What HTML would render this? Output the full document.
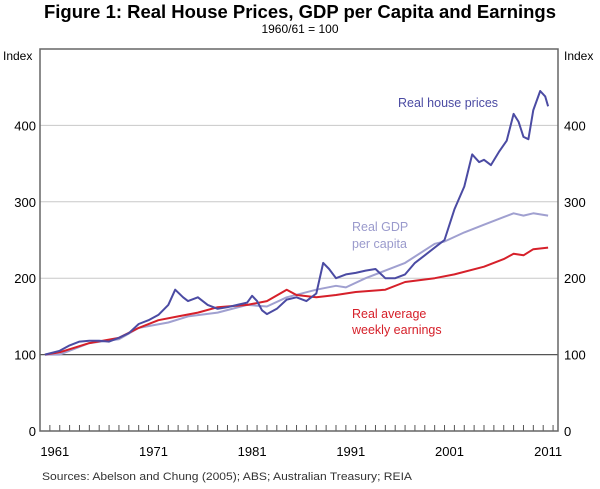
<!DOCTYPE html>
<html><head><meta charset="utf-8"><style>
body{margin:0;background:#fff;width:600px;height:484px;overflow:hidden;font-family:"Liberation Sans",Arial,sans-serif}
</style></head><body>
<svg id="chart" width="600" height="484" xmlns="http://www.w3.org/2000/svg" font-family="Liberation Sans, Arial, sans-serif">
<text x="300" y="18" text-anchor="middle" font-size="18" font-weight="bold" textLength="512" lengthAdjust="spacingAndGlyphs">Figure 1: Real House Prices, GDP per Capita and Earnings</text>
<text x="300" y="33" text-anchor="middle" font-size="12">1960/61 = 100</text>
<text x="3" y="60" font-size="12">Index</text>
<text x="564" y="60" font-size="12">Index</text>
<g id="grid"></g><g id="series"></g><g id="axes"></g>
<text x="398" y="107" font-size="12.5" fill="#4b4ba3">Real house prices</text>
<text x="352" y="231" font-size="12.5" fill="#9a9acc">Real GDP</text>
<text x="352" y="248" font-size="12.5" fill="#9a9acc">per capita</text>
<text x="352" y="318" font-size="12.5" fill="#d6202a">Real average</text>
<text x="352" y="334" font-size="12.5" fill="#d6202a">weekly earnings</text>
<text x="42" y="480" font-size="11" fill="#333" textLength="370" lengthAdjust="spacingAndGlyphs">Sources:  Abelson and Chung (2005); ABS; Australian Treasury; REIA</text>
</svg>
<script>
const yTicks=[0,100,200,300,400];
const xLabels=[1961,1971,1981,1991,2001,2011];
const houseT=[1960.5,1962,1963,1964,1965,1966,1967,1968,1969,1970,1971,1972,1973,1973.7,1974.5,1975,1976,1977,1978,1979,1980,1981,1981.5,1982,1982.5,1983,1984,1985,1986,1987,1988,1988.7,1989.3,1990,1991,1992,1993,1994,1995,1996,1997,1998,1999,2000,2001,2002,2003,2003.8,2004.5,2005,2005.7,2006.5,2007.3,2008,2008.5,2009,2009.5,2010,2010.7,2011.2,2011.5];
const houseV=[100,105,112,117,118,118,117,122,128,140,145,152,165,185,175,170,175,165,160,162,165,168,177,170,158,153,160,172,175,170,180,220,212,200,205,207,210,212,200,200,205,220,230,240,250,290,320,362,352,355,348,365,380,415,405,385,382,420,445,438,425];
const gdpT=[1960.5,1962,1965,1968,1970,1973,1975,1978,1981,1983,1985,1988,1990,1991,1993,1995,1997,2000,2001,2003,2005,2007,2008,2009,2010,2011.5];
const gdpV=[100,100,115,120,135,142,150,155,165,163,175,185,190,188,200,210,220,245,248,260,270,280,285,282,285,282];
const earnT=[1960.5,1962,1965,1968,1970,1972,1974,1976,1978,1981,1983,1985,1986,1988,1990,1992,1995,1997,2000,2002,2005,2007,2008,2009,2010,2011.5];
const earnV=[100,103,115,122,135,145,150,155,162,165,170,185,178,175,178,182,185,195,200,205,215,225,232,230,238,240];
const L=40,R=558,T=49,B=431;
const x=t=>L+(t-1960)*(R-L)/52.5;
const y=v=>B-v*(B-T)/500;
const NS='http://www.w3.org/2000/svg';
function mk(tag,attrs,parent,text){const e=document.createElementNS(NS,tag);for(const k in attrs)e.setAttribute(k,attrs[k]);if(text!==undefined)e.textContent=text;document.getElementById(parent).appendChild(e);return e;}
yTicks.forEach(v=>{
 if(v>0){const g=mk('line',{x1:L,x2:R,y1:y(v),y2:y(v),stroke:v==100?'#555':'#c8c8c8','stroke-width':v==100?1.3:1},'grid');
 
 }
 const a=mk('text',{x:L-4,y:y(v)+5,'text-anchor':'end','font-size':13},'axes',v);
 
 
 const b=mk('text',{x:R+6,y:y(v)+5,'font-size':13},'axes',v);
 
 
});
for(let yr=1961;yr<=2012;yr++){const t=mk('line',{x1:x(yr),x2:x(yr),y1:B,y2:B-6,stroke:'#555','stroke-width':1},'axes');
 
 }
xLabels.forEach(yr=>{const t=mk('text',{x:x(yr+0.5),y:B+25,'text-anchor':'middle','font-size':13},'axes',yr);
 
 });
const fr=mk('path',{d:`M${L},${B}V${T}H${R}V${B}Z`,fill:'none',stroke:'#666','stroke-width':1.5},'axes');


function line(ts,vs,color,w,name){const p=mk('path',{d:ts.map((t,i)=>(i?'L':'M')+x(t).toFixed(1)+','+y(vs[i]).toFixed(1)).join(''),fill:'none',stroke:color,'stroke-width':w,'stroke-linejoin':'round'},'series');
 
 }
line(gdpT,gdpV,'#a0a0d0',2,'gdp-line');
line(earnT,earnV,'#d6202a',2,'earnings-line');
line(houseT,houseV,'#4b4ba3',2,'house-prices-line');
</script>
</body></html>
